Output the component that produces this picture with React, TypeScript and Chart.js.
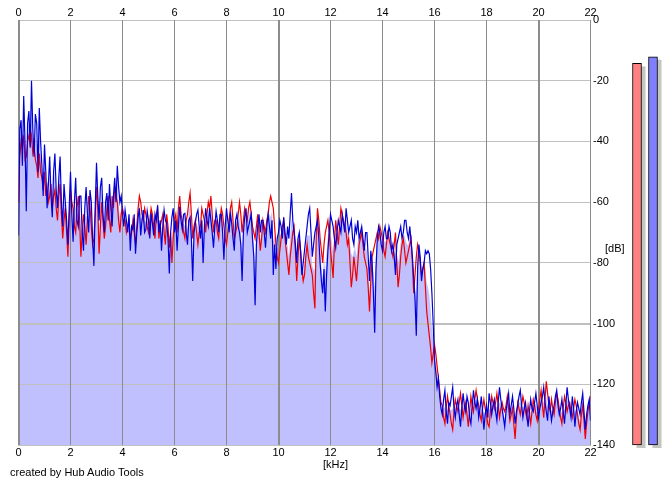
import React, { useEffect, useRef } from 'react';
import Chart from 'chart.js/auto';

// spectrum sampled every 0.05 kHz, 0 .. 22 kHz
const STEP_KHZ = 0.05;

const blueDb: number[] = [
  // 0 - 2 kHz
  -71, -36, -33, -48, -25, -40, -63, -34, -30, -42, -20, -36, -45, -31, -34, -50, -29, -40, -48, -58,
  -41, -50, -62, -54, -45, -58, -65, -50, -44, -56, -62, -52, -45, -60, -68, -54, -60, -66, -74, -62,
  -50,
  // 2 - 4 kHz
  -64, -73, -60, -52, -66, -68, -58, -58, -70, -76, -62, -55, -64, -70, -56, -60, -72, -81, -62, -47,
  -58, -66, -55, -52, -64, -70, -60, -57, -66, -54, -62, -68, -58, -52, -60, -48, -55, -60, -58, -64,
  // 4 - 6 kHz
  -68, -62.6, -66, -70, -64, -76, -68, -69, -64, -77, -70, -65, -62, -71, -66, -62.6, -70, -69, -63, -66,
  -72, -63.7, -67, -71, -64, -66, -61, -70, -66, -76, -68, -62.6, -66, -67, -72, -83.5, -70, -65, -62, -70,
  // 6 - 8 kHz
  -66, -76, -68, -61.5, -66, -69, -64, -63.7, -70, -74, -66, -65, -72, -86, -70, -67, -64, -62.6, -68, -72,
  -66, -80, -68, -62, -66, -68, -62, -66, -70, -75, -68, -63, -66, -70, -64, -64, -70, -79, -68, -62,
  // 8 - 10 kHz
  -66, -70, -64, -67, -72, -76, -66, -64, -68, -70, -74, -86, -70, -65, -62, -70, -68, -66, -64, -72,
  -78, -94, -74, -68, -64, -70, -66, -66, -70, -75, -68, -64, -68, -72, -66, -84, -74, -82, -72, -70,
  // 10 - 12 kHz
  -66, -68, -72, -65, -70, -74, -68, -72, -64, -57, -66, -70, -74, -80, -72, -70, -76, -84, -80, -76,
  -72, -68, -64, -62, -70, -78, -74, -70, -68, -66, -72, -80, -86, -90, -82, -96, -84, -76, -70, -64,
  // 12 - 14 kHz
  -66, -68, -72, -75, -70, -66, -68, -70, -64, -67, -70, -62, -66, -70, -68, -66, -72, -74, -68, -70,
  -66, -72, -70, -68, -72, -76, -70, -70, -78, -86, -76, -80, -90, -103, -82, -72, -68, -70, -74, -76,
  // 14 - 16.2 kHz
  -70, -68, -72, -72, -68, -70, -76, -74, -78, -84, -74, -72, -70, -68, -72, -70, -66, -66, -70, -72,
  -68, -73, -78, -85, -92, -104, -82, -74, -78, -86, -82, -80, -76, -77, -76, -77, -82, -90, -100, -112,
  -116, -121, -118, -124,
  // 16.25 - 22 kHz
  -128, -130, -125, -122, -129, -133, -126, -127, -124, -121, -128, -131, -127, -125, -130,
  -134, -128, -123, -127, -129, -124, -126, -131, -133, -127, -122, -126, -128, -125, -131, -128, -124, -129, -135, -130,
  -127, -131, -123, -126, -130, -127, -125, -129, -132, -126, -121, -125, -128, -131, -134, -129, -126, -123, -130, -127,
  -124, -128, -133, -129, -127, -124, -122, -127, -131, -128, -126, -130, -134, -129, -125, -128, -129, -126, -123, -127,
  -131, -128, -126, -124, -121, -126, -129, -132, -124, -128, -132, -129, -127, -124, -122, -127, -130, -128, -125, -129,
  -133, -127, -121, -125, -128, -131, -124, -128, -134, -129, -126, -128, -130, -126, -123, -129, -135, -130, -127, -125,
  -132,
];

const redDb: number[] = [
  // 0 - 2 kHz
  -60, -45, -40, -42, -38, -46, -45, -40, -38, -41, -38, -44, -42, -46, -48, -52, -44, -50, -52, -56,
  -50, -58, -55, -60, -58, -54, -62, -58, -56, -62, -66, -58, -54, -64, -72, -66, -62, -70, -78, -66,
  -56,
  // 2 - 4 kHz
  -60, -62, -68, -70, -62, -58, -66, -78, -70, -64, -68, -74, -66, -58, -62, -68, -74, -72, -64, -55,
  -62, -77, -68, -60, -66, -72, -68, -62, -58, -66, -70, -58, -62, -55, -58, -60, -66, -70, -64, -62,
  // 4 - 6 kHz
  -64, -66, -70, -68, -66, -72, -70, -66, -70, -74, -68, -62, -58, -60, -64, -66, -62, -64, -68, -70,
  -66, -62, -64, -68, -72, -64, -62, -72, -68, -66, -64, -70, -74, -64, -68, -75, -70, -80, -72, -66,
  // 6 - 8 kHz
  -64, -70, -62, -58, -64, -66, -70, -72, -66, -64, -60, -57, -64, -72, -68, -66, -70, -74, -70, -68,
  -62, -64, -66, -70, -64, -60, -62, -58, -64, -70, -66, -66, -70, -72, -66, -62, -64, -68, -72, -74,
  // 8 - 10 kHz
  -70, -66, -62, -60, -66, -72, -70, -68, -64, -60, -64, -70, -66, -62, -64, -66, -62, -60, -64, -68,
  -70, -72, -68, -64, -70, -76, -72, -66, -68, -70, -66, -64, -60, -58, -60, -62, -68, -74, -78, -80,
  // 10 - 12 kHz
  -76, -72, -68, -66, -72, -76, -80, -84, -78, -74, -70, -68, -76, -86, -78, -72, -76, -82, -86, -84,
  -78, -74, -78, -80, -82, -84, -90, -95, -72, -62, -66, -72, -76, -80, -74, -70, -68, -66, -70, -76,
  // 12 - 14 kHz
  -80, -85, -74, -66, -70, -74, -68, -62, -64, -66, -68, -70, -74, -72, -80, -88, -84, -78, -82, -86,
  -80, -74, -72, -70, -74, -78, -80, -82, -88, -96, -86, -78, -76, -74, -72, -70, -72, -68, -70, -72,
  // 14 - 16.2 kHz
  -76, -78, -74, -70, -72, -74, -76, -78, -74, -70, -80, -88, -84, -78, -74, -72, -76, -80, -78, -76,
  -74, -72, -80, -90, -84, -78, -74, -76, -80, -84, -82, -80, -88, -96, -100, -104, -108, -113, -110, -107,
  -110, -114, -118, -122,
  // 16.25 - 22 kHz
  -126, -127, -131, -133, -128, -124, -127, -130, -133, -135, -129, -125, -127, -129, -126,
  -123, -127, -131, -128, -126, -130, -134, -129, -124, -127, -129, -125, -122, -125, -127, -130, -132, -128, -125, -128,
  -130, -133, -134, -129, -124, -126, -128, -126, -123, -127, -131, -128, -126, -128, -129, -127, -124, -128, -132, -130,
  -128, -133, -138, -131, -126, -128, -130, -127, -124, -126, -129, -131, -127, -130, -133, -129, -125, -127, -130, -132,
  -128, -125, -122, -127, -131, -125, -119, -123, -127, -129, -125, -128, -130, -126, -123, -125, -128, -131, -133, -128,
  -124, -126, -129, -127, -126, -129, -131, -128, -125, -127, -130, -133, -135, -130, -127, -132, -138, -133, -129, -126,
  -124,
];

const meterLabels = ['L', 'R'];
const meterLevels = [-14.3, -12.1];

const FONT = '"Liberation Sans", Arial, sans-serif';
const tickFont = { family: FONT, size: 11 };

// grid is repainted right after the filled area so it shows through it
const gridOverFill = {
  id: 'gridOverFill',
  afterDatasetDraw(chart: any, args: any) {
    if (args.index !== 2) return;
    chart.scales.y.drawGrid(chart.chartArea);
    chart.scales.x.drawGrid(chart.chartArea);
  },
};

const meterShadow = {
  id: 'meterShadow',
  beforeDatasetsDraw(chart: any) {
    const ctx = chart.ctx;
    ctx.save();
    ctx.fillStyle = '#c4c4c0';
    chart.getDatasetMeta(0).data.forEach((el: any) => {
      const w = el.width;
      ctx.fillRect(el.x - w / 2 + 4, el.y + 3, w, el.base - el.y);
    });
    ctx.restore();
  },
};

const Spectrum: React.FC = () => {
  const ref = useRef<HTMLCanvasElement>(null);
  useEffect(() => {
    if (!ref.current) return;
    const pts = (arr: number[]) => arr.map((v, i) => ({ x: i * STEP_KHZ, y: v }));
    const n = Math.min(blueDb.length, redDb.length);
    const fillPts = blueDb.slice(0, n).map((v, i) => ({ x: i * STEP_KHZ, y: (v + redDb[i]) / 2 }));
    const chart = new Chart(ref.current, {
      type: 'line',
      data: {
        datasets: [
          { data: pts(blueDb), borderColor: '#0000d8', borderWidth: 1.2, pointRadius: 0, fill: false, order: 0 },
          { data: pts(redDb), borderColor: '#f00000', borderWidth: 1.2, pointRadius: 0, fill: false, order: 1 },
          {
            data: fillPts,
            borderWidth: 0,
            borderColor: 'rgba(0,0,0,0)',
            backgroundColor: '#c0c0ff',
            pointRadius: 0,
            fill: 'start',
            order: 2,
          },
        ],
      },
      options: {
        animation: false,
        responsive: true,
        maintainAspectRatio: false,
        layout: { padding: { left: 18.5, top: 0, right: 0, bottom: 0 } },
        plugins: { legend: { display: false }, tooltip: { enabled: false } },
        scales: {
          x: {
            type: 'linear',
            position: 'bottom',
            min: 0,
            max: 22,
            ticks: { stepSize: 2, color: '#000', font: tickFont, padding: 1, maxRotation: 0, autoSkip: false },
            grid: {
              color: '#8c8c8c',
              lineWidth: (c: any) => (c.tick && c.tick.value % 10 === 0 ? 2 : 1),
              drawTicks: false,
            },
            border: { display: false },
            afterFit: (s: any) => {
              s.height = 40;
            },
          },
          xTop: {
            type: 'linear',
            position: 'top',
            min: 0,
            max: 22,
            ticks: { stepSize: 2, color: '#000', font: tickFont, padding: 0, maxRotation: 0, autoSkip: false },
            grid: { display: false, drawTicks: false },
            border: { display: false },
            afterFit: (s: any) => {
              s.height = 20;
            },
          },
          y: {
            position: 'right',
            min: -140,
            max: 0,
            ticks: { stepSize: 20, color: '#000', font: tickFont, padding: 2.5 },
            grid: {
              color: '#c0c0c0',
              lineWidth: (c: any) => (c.tick && c.tick.value === -100 ? 2 : 1),
              drawTicks: false,
            },
            border: { display: false },
            afterFit: (s: any) => {
              s.width = 81.5;
            },
          },
        },
      },
      plugins: [gridOverFill],
    } as any);
    return () => chart.destroy();
  }, []);
  return <canvas ref={ref} />;
};

const Meters: React.FC = () => {
  const ref = useRef<HTMLCanvasElement>(null);
  useEffect(() => {
    if (!ref.current) return;
    const chart = new Chart(ref.current, {
      type: 'bar',
      data: {
        labels: meterLabels,
        datasets: [
          {
            data: meterLevels.map((v) => [-140, v]),
            backgroundColor: ['#ff8080', '#8080ff'],
            borderColor: '#000',
            borderWidth: 1,
            borderSkipped: false,
            barThickness: 9,
            clip: false,
          },
        ],
      },
      options: {
        animation: false,
        responsive: true,
        maintainAspectRatio: false,
        layout: { padding: { left: 0, right: 8, top: 20, bottom: 40 } },
        plugins: { legend: { display: false }, tooltip: { enabled: false } },
        scales: {
          x: { display: false },
          y: { display: false, min: -140, max: 0 },
        },
      },
      plugins: [meterShadow],
    } as any);
    return () => chart.destroy();
  }, []);
  return <canvas ref={ref} />;
};

const textStyle: React.CSSProperties = {
  position: 'absolute',
  font: `11px ${FONT}`,
  lineHeight: '13px',
  color: '#000',
  whiteSpace: 'nowrap',
};

export default function App() {
  useEffect(() => {
    document.body.style.margin = '0';
  }, []);
  return (
    <div style={{ position: 'relative', width: 672, height: 485, background: '#fff', overflow: 'hidden' }}>
      <div style={{ position: 'absolute', left: 0, top: 0, width: 672, height: 485 }}>
        <Spectrum />
      </div>
      <div style={{ position: 'absolute', left: 629, top: 0, width: 40, height: 485 }}>
        <Meters />
      </div>
      <div style={{ ...textStyle, left: 605, top: 242 }}>[dB]</div>
      <div style={{ ...textStyle, left: 323, top: 458 }}>[kHz]</div>
      <div style={{ ...textStyle, left: 10, top: 466 }}>created by Hub Audio Tools</div>
    </div>
  );
}
